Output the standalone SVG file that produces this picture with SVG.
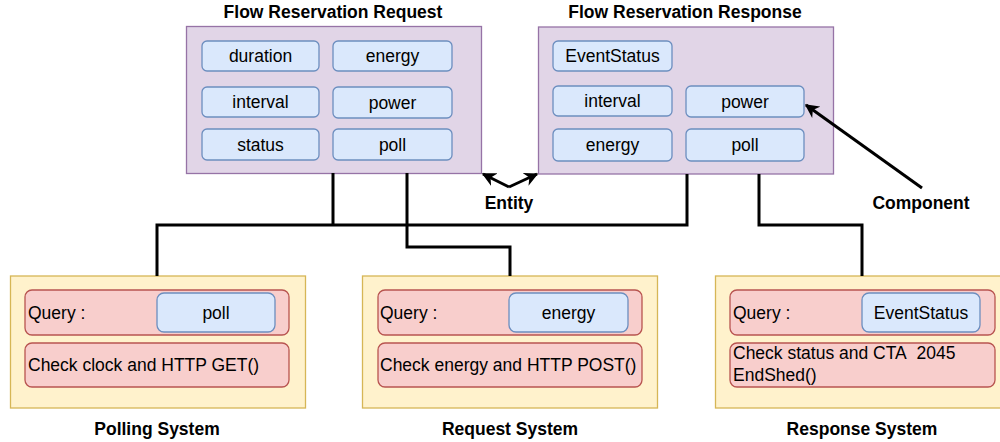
<svg xmlns="http://www.w3.org/2000/svg" width="1000" height="442" viewBox="0 0 1000 442">
<defs>
<style>
.ent{fill:#e1d5e7;stroke:#9673a6;stroke-width:1.3}
.fld{fill:#dae8fc;stroke:#6c8ebf;stroke-width:1.3}
.sys{fill:#fff2cc;stroke:#d6b656;stroke-width:1.3}
.red{fill:#f8cecc;stroke:#b85450;stroke-width:1.3}
text{font-family:"Liberation Sans",Arial,sans-serif;font-size:17.5px;fill:#000}
.c{text-anchor:middle}
.b{font-weight:bold}
.wire{fill:none;stroke:#000;stroke-width:3}
</style>
<marker id="ah" viewBox="0 0 10 10" refX="9" refY="5" markerWidth="14" markerHeight="14" orient="auto" markerUnits="userSpaceOnUse">
<path d="M0,0 L10,5 L0,10 L3,5 Z" fill="#000"/>
</marker>
</defs>
<rect width="1000" height="442" fill="#fff"/>

<g id="flow-reservation-request">
<text class="c b" x="333" y="18">Flow Reservation Request</text>
<rect class="ent" x="186.5" y="26.5" width="295" height="147"/>
<rect class="fld" x="202" y="41" width="117" height="30" rx="5"/>
<text class="c" x="260.5" y="62">duration</text>
<rect class="fld" x="333" y="41" width="119" height="30" rx="5"/>
<text class="c" x="392.5" y="62">energy</text>
<rect class="fld" x="202" y="87" width="117" height="30" rx="5"/>
<text class="c" x="260.5" y="108">interval</text>
<rect class="fld" x="333" y="87" width="119" height="31" rx="5"/>
<text class="c" x="392.5" y="108.5">power</text>
<rect class="fld" x="202" y="129" width="117" height="31" rx="5"/>
<text class="c" x="260.5" y="150.5">status</text>
<rect class="fld" x="333" y="129" width="119" height="31" rx="5"/>
<text class="c" x="392.5" y="150.5">poll</text>
</g>

<g id="flow-reservation-response">
<text class="c b" x="685" y="18">Flow Reservation Response</text>
<rect class="ent" x="538.5" y="27" width="295" height="147"/>
<rect class="fld" x="553" y="41" width="119" height="30" rx="5"/>
<text class="c" x="612.5" y="62">EventStatus</text>
<rect class="fld" x="553" y="86" width="119" height="30" rx="5"/>
<text class="c" x="612.5" y="107">interval</text>
<rect class="fld" x="686" y="86" width="118" height="31" rx="5"/>
<text class="c" x="745" y="107.5">power</text>
<rect class="fld" x="553" y="129" width="119" height="32" rx="5"/>
<text class="c" x="612.5" y="151">energy</text>
<rect class="fld" x="686" y="129" width="118" height="32" rx="5"/>
<text class="c" x="745" y="151">poll</text>
</g>

<g id="entity-label">
<text class="c b" x="509" y="209">Entity</text>
</g>
<g id="component-label">
<text class="c b" x="921" y="209">Component</text>
</g>

<g id="polling-system">
<rect class="sys" x="10.5" y="276" width="295" height="132"/>
<rect class="red" x="25" y="290" width="264" height="45" rx="7"/>
<text x="28" y="318.5">Query :</text>
<rect class="fld" x="157" y="293" width="118" height="39" rx="7"/>
<text class="c" x="216" y="318.5">poll</text>
<rect class="red" x="25" y="343" width="264" height="44" rx="7"/>
<text x="28" y="370.5">Check clock and HTTP GET()</text>
<text class="c b" x="157" y="435">Polling System</text>
</g>

<g id="request-system">
<rect class="sys" x="362.5" y="276" width="295" height="132"/>
<rect class="red" x="378" y="290" width="264" height="45" rx="7"/>
<text x="380" y="318.5">Query :</text>
<rect class="fld" x="509" y="293" width="119" height="39" rx="7"/>
<text class="c" x="568.5" y="318.5">energy</text>
<rect class="red" x="378" y="343" width="264" height="44" rx="7"/>
<text x="380" y="370.5">Check energy and HTTP POST()</text>
<text class="c b" x="510" y="435">Request System</text>
</g>

<g id="response-system">
<rect class="sys" x="715.5" y="276" width="295" height="132"/>
<rect class="red" x="730" y="290" width="265" height="45" rx="7"/>
<text x="733" y="318.5">Query :</text>
<rect class="fld" x="862" y="293" width="118" height="39" rx="7"/>
<text class="c" x="921" y="318.5">EventStatus</text>
<rect class="red" x="730" y="343" width="265" height="44" rx="7"/>
<text x="733" y="359">Check status and CTA&#160; 2045</text>
<text x="733" y="381">EndShed()</text>
<text class="c b" x="862" y="435">Response System</text>
</g>

<g id="connectors">
<polyline class="wire" points="687,174 687,225 157,225 157,276"/>
<polyline class="wire" points="333,173 333,225"/>
<polyline class="wire" points="407,173 407,247 510,247 510,276"/>
<polyline class="wire" points="759,174 759,225 862,225 862,276"/>
<line class="wire" x1="509" y1="187" x2="483" y2="174" marker-end="url(#ah)"/>
<line class="wire" x1="509" y1="187" x2="537" y2="174" marker-end="url(#ah)"/>
<line class="wire" x1="922" y1="188" x2="806" y2="105" marker-end="url(#ah)"/>
</g>
</svg>
